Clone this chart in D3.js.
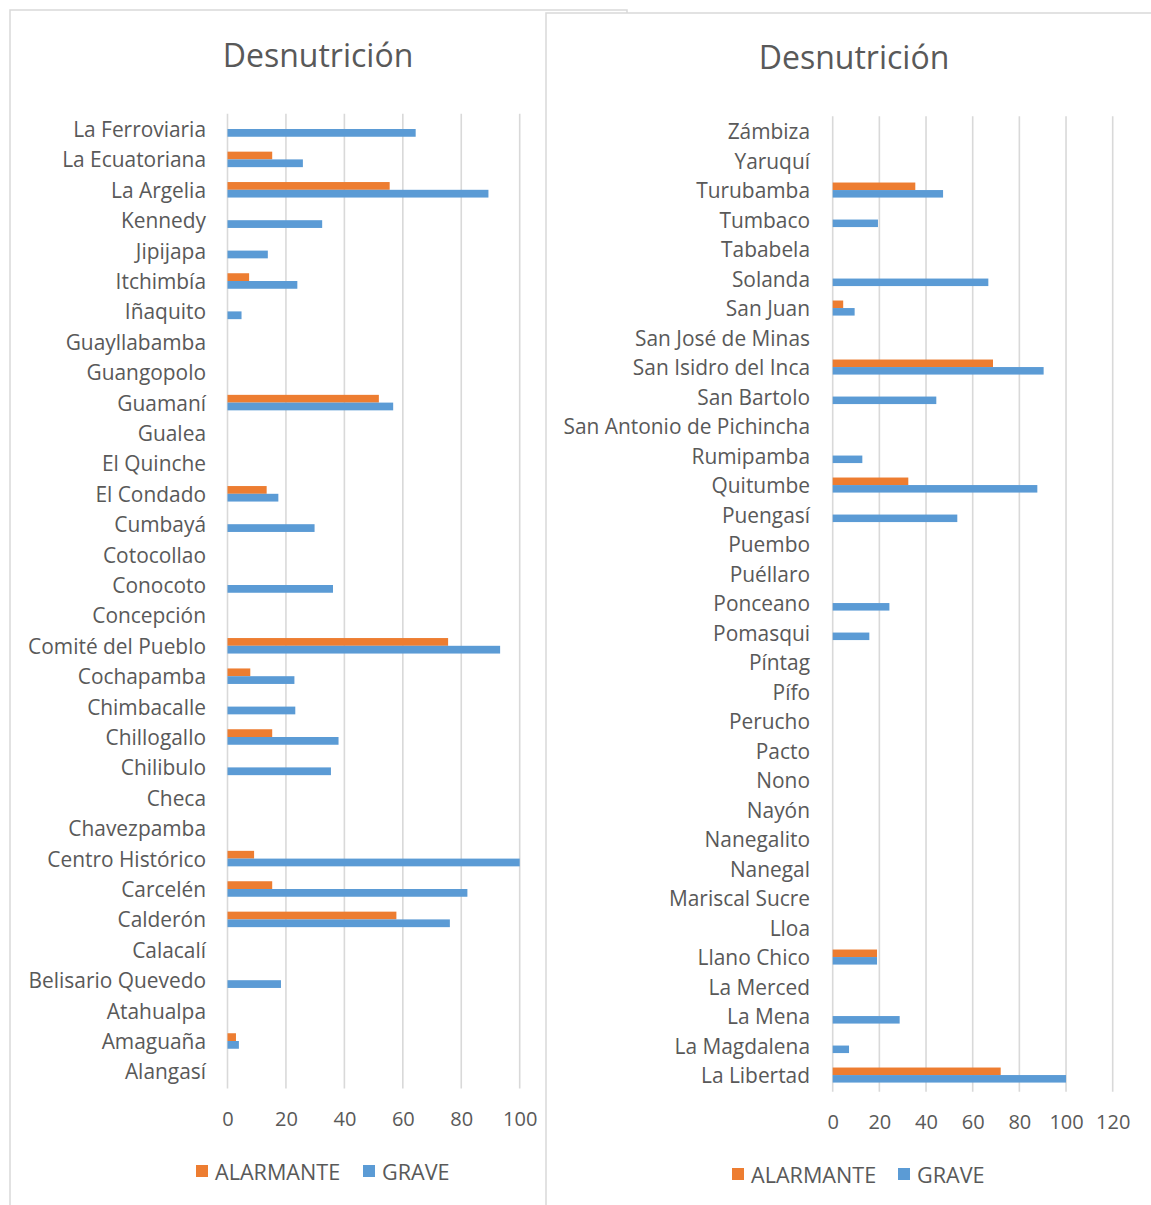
<!DOCTYPE html>
<html>
<head>
<meta charset="utf-8">
<script src="https://d3js.org/d3.v7.min.js"></script>
<style>
  html, body { margin: 0; padding: 0; background: #fff; }
  svg { display: block; }
  text { font-family: "Open Sans", sans-serif; fill: #595959; }
</style>
</head>
<body>
<svg id="chart" width="1151" height="1205"></svg>
<script>
// ---- Data ----
const seriesNames = ["ALARMANTE", "GRAVE"];
const seriesColors = ["#ED7D31", "#5B9BD5"];
const chartTitle = "Desnutrición";

const leftCategories = ["La Ferroviaria", "La Ecuatoriana", "La Argelia", "Kennedy", "Jipijapa", "Itchimbía", "Iñaquito", "Guayllabamba", "Guangopolo", "Guamaní", "Gualea", "El Quinche", "El Condado", "Cumbayá", "Cotocollao", "Conocoto", "Concepción", "Comité del Pueblo", "Cochapamba", "Chimbacalle", "Chillogallo", "Chilibulo", "Checa", "Chavezpamba", "Centro Histórico", "Carcelén", "Calderón", "Calacalí", "Belisario Quevedo", "Atahualpa", "Amaguaña", "Alangasí"];
const leftAlarmante = [0, 15.3, 55.5, 0, 0, 7.4, 0, 0, 0, 51.8, 0, 0, 13.4, 0, 0, 0, 0, 75.5, 7.8, 0, 15.3, 0, 0, 0, 9.1, 15.3, 57.8, 0, 0, 0, 2.9, 0];
const leftGrave = [64.4, 25.8, 89.3, 32.4, 13.8, 23.9, 4.8, 0, 0, 56.7, 0, 0, 17.4, 29.8, 0, 36.1, 0, 93.3, 22.9, 23.2, 38.0, 35.4, 0, 0, 100, 82.1, 76.1, 0, 18.3, 0, 3.9, 0];
const leftTicks = [0, 20, 40, 60, 80, 100];

const rightCategories = ["Zámbiza", "Yaruquí", "Turubamba", "Tumbaco", "Tababela", "Solanda", "San Juan", "San José de Minas", "San Isidro del Inca", "San Bartolo", "San Antonio de Pichincha", "Rumipamba", "Quitumbe", "Puengasí", "Puembo", "Puéllaro", "Ponceano", "Pomasqui", "Píntag", "Pífo", "Perucho", "Pacto", "Nono", "Nayón", "Nanegalito", "Nanegal", "Mariscal Sucre", "Lloa", "Llano Chico", "La Merced", "La Mena", "La Magdalena", "La Libertad"];
const rightAlarmante = [0, 0, 35.4, 0, 0, 0, 4.5, 0, 68.7, 0, 0, 0, 32.4, 0, 0, 0, 0, 0, 0, 0, 0, 0, 0, 0, 0, 0, 0, 0, 19.0, 0, 0, 0, 72.0];
const rightGrave = [0, 0, 47.3, 19.4, 0, 66.7, 9.4, 0, 90.4, 44.4, 0, 12.7, 87.7, 53.4, 0, 0, 24.3, 15.7, 0, 0, 0, 0, 0, 0, 0, 0, 0, 0, 19.0, 0, 28.7, 7.0, 100];
const rightTicks = [0, 20, 40, 60, 80, 100, 120];

// ---- Drawing ----
const svg = d3.select("#chart");

function panel(cfg) {
  const g = svg.append("g");
  // border/background
  g.append("rect")
    .attr("x", cfg.box[0]).attr("y", cfg.box[1])
    .attr("width", cfg.box[2]).attr("height", cfg.box[3])
    .attr("fill", "#fff").attr("stroke", "#d9d9d9").attr("stroke-width", 1.5);

  const x = d3.scaleLinear().domain([0, cfg.max]).range([cfg.x0, cfg.x1]);
  const y = d3.scaleBand().domain(cfg.categories).range([cfg.y0, cfg.y1])
    .paddingInner(0.49).paddingOuter(0.245);
  const ys = d3.scaleBand().domain(seriesNames).range([0, y.bandwidth()]);

  // title
  g.append("text").attr("x", cfg.titleX).attr("y", cfg.titleY)
    .attr("text-anchor", "middle").attr("dominant-baseline", "central")
    .style("font-size", "32px").text(chartTitle);

  // gridlines
  g.append("g").selectAll("line").data(cfg.ticks).join("line")
    .attr("x1", d => x(d)).attr("x2", d => x(d))
    .attr("y1", cfg.y0).attr("y2", cfg.y1 + 2)
    .attr("stroke", "#d9d9d9").attr("stroke-width", 1.6);

  // x axis tick labels
  const xAxis = d3.axisBottom(x).tickValues(cfg.ticks).tickSize(0).tickPadding(0);
  const ax = g.append("g").attr("transform", `translate(0,${cfg.tickY})`).call(xAxis);
  ax.select(".domain").remove();
  ax.selectAll("text").attr("dy", null).attr("dominant-baseline", "central")
    .style("font-size", "20px").style("font-family", '"Open Sans", sans-serif').attr("fill", "#595959");

  // category labels
  const yAxis = d3.axisLeft(y).tickSize(0).tickPadding(0);
  const ay = g.append("g").attr("transform", `translate(${cfg.labelX},0)`).call(yAxis);
  ay.select(".domain").remove();
  ay.selectAll("text").attr("dy", null).attr("x", 0).attr("dominant-baseline", "central")
    .style("font-size", "20.9px").style("font-family", '"Open Sans", sans-serif').attr("fill", "#595959");

  // bars
  const vals = [cfg.alarmante, cfg.grave];
  seriesNames.forEach((s, si) => {
    g.append("g").selectAll("rect")
      .data(cfg.categories.map((c, i) => ({ c, v: vals[si][i] })).filter(d => d.v > 0))
      .join("rect")
      .attr("x", x(0))
      .attr("y", d => y(d.c) + ys(s))
      .attr("width", d => x(d.v) - x(0))
      .attr("height", ys.bandwidth())
      .attr("fill", seriesColors[si]);
  });

  // legend
  const lg = g.append("g").attr("transform", `translate(0,${cfg.legendY})`);
  cfg.legendX.forEach((lx, i) => {
    lg.append("rect").attr("x", lx).attr("y", -6).attr("width", 12).attr("height", 12)
      .attr("fill", seriesColors[i]);
    lg.append("text").attr("x", lx + 19).attr("y", 0).attr("dominant-baseline", "central")
      .style("font-size", "21.6px").text(seriesNames[i]);
  });
}

panel({
  box: [10, 10, 617, 1210],
  categories: leftCategories, alarmante: leftAlarmante, grave: leftGrave,
  ticks: leftTicks, max: 100,
  x0: 227.5, x1: 519.7, y0: 113.8, y1: 1086.6,
  titleX: 318, titleY: 54, tickY: 1118, labelX: 206,
  legendY: 1171, legendX: [196, 363]
});

panel({
  box: [546, 13, 620, 1210],
  categories: rightCategories, alarmante: rightAlarmante, grave: rightGrave,
  ticks: rightTicks, max: 120,
  x0: 832.7, x1: 1112.7, y0: 116.3, y1: 1089.8,
  titleX: 854, titleY: 56, tickY: 1121, labelX: 810,
  legendY: 1174, legendX: [732, 898]
});
</script>
</body>
</html>
